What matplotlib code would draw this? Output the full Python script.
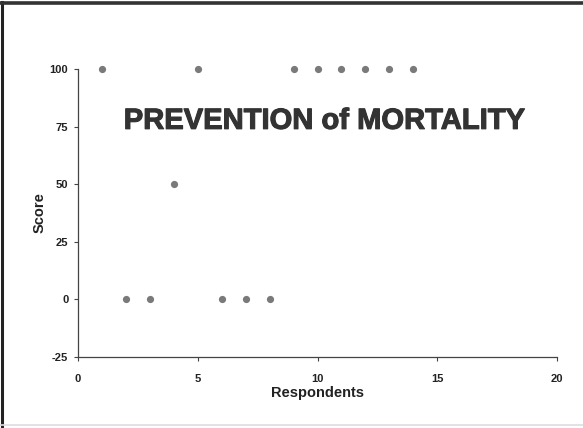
import matplotlib
matplotlib.use("Agg")
import matplotlib.pyplot as plt
import matplotlib.patheffects as pe
from matplotlib.lines import Line2D

respondents = [1, 2, 3, 4, 5, 6, 7, 8, 9, 10, 11, 12, 13, 14]
scores = [100, 0, 0, 50, 100, 0, 0, 0, 100, 100, 100, 100, 100, 100]
x_ticks = [0, 5, 10, 15, 20]
y_ticks = [-25, 0, 25, 50, 75, 100]

plt.rcParams["font.family"] = ["Liberation Sans", "DejaVu Sans"]
plt.rcParams["axes.unicode_minus"] = False

fig = plt.figure(figsize=(5.83, 4.28), dpi=100)
ax = fig.add_axes([0.1338, 0.1659, 0.8216, 0.6729])

ax.plot(respondents, scores, "o", color="#7a7a7a", markersize=5.2,
        markeredgewidth=0, zorder=3, clip_on=False)

ax.set_xlim(0, 20)
ax.set_ylim(-25, 100)
ax.set_xticks(x_ticks)
ax.set_yticks(y_ticks)
ax.tick_params(direction="out", length=3, width=0.8, color="#444444",
               labelsize=8)
ax.tick_params(axis="y", pad=4)
ax.tick_params(axis="x", pad=9)
for lab in ax.get_xticklabels() + ax.get_yticklabels():
    lab.set_fontweight("bold")
    lab.set_color("#222222")

for side in ("top", "right"):
    ax.spines[side].set_visible(False)
for side in ("left", "bottom"):
    ax.spines[side].set_color("#444444")
    ax.spines[side].set_linewidth(0.9)

ax.set_xlabel("Respondents", fontsize=10.5, fontweight="bold", color="#222222", labelpad=2)
ax.set_ylabel("Score", fontsize=10.5, fontweight="bold", color="#222222", labelpad=2)

ax.text(10.3, 77.5, "PREVENTION of MORTALITY", fontsize=21, fontweight="bold",
        color="#333333", ha="center", va="center",
        path_effects=[pe.withStroke(linewidth=0.8, foreground="#333333")])

# frame around the slide
fig.add_artist(Line2D([0.004, 0.004], [0.005, 0.995], transform=fig.transFigure,
                      color="#222222", lw=2.2))
fig.add_artist(Line2D([0.0, 1.0], [0.993, 0.993], transform=fig.transFigure,
                      color="#333333", lw=2.6))
fig.add_artist(Line2D([0.0, 1.0], [0.008, 0.008], transform=fig.transFigure,
                      color="#dddddd", lw=1.2))

fig.savefig("out.png", dpi=100)
